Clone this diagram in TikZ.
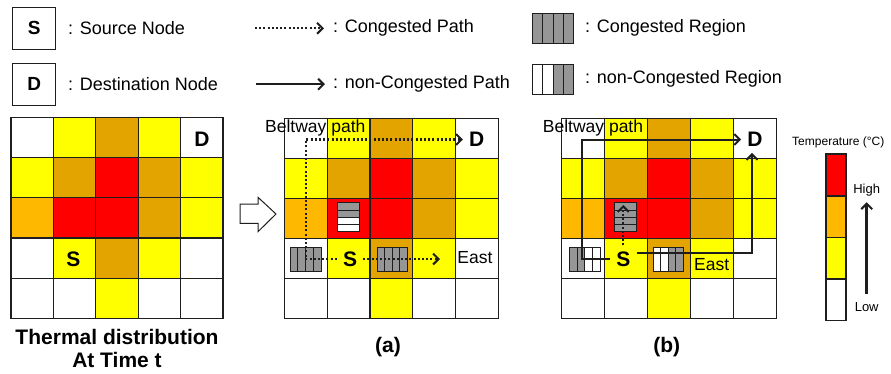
\documentclass[tikz,border=0pt]{standalone}
\usepackage{fontspec}
\setmainfont{Liberation Sans}
\usetikzlibrary{arrows.meta}

\definecolor{cW}{RGB}{255,255,255}
\definecolor{cY}{RGB}{255,255,0}
\definecolor{cO}{RGB}{228,164,0}
\definecolor{cL}{RGB}{255,184,0}
\definecolor{cR}{RGB}{255,0,0}
\definecolor{regfill}{RGB}{150,150,150}
\definecolor{ink}{RGB}{30,30,30}

% 5x5 thermal grid: left, top, cell width, cell height
\newcommand{\thermgrid}[4]{%
  \foreach \row [count=\r from 0] in {{W,Y,O,Y,W},{Y,O,R,O,Y},{L,R,R,O,Y},{W,Y,O,Y,W},{W,W,Y,W,W}} {
    \foreach \c [count=\k from 0] in \row {
      \filldraw[gridcell, fill=c\c] ({#1+\k*#3},{#2+\r*#4}) rectangle ++(#3,#4);
    }
  }
}
% region icon with four vertical strips: left, top, right, bottom, fills
\newcommand{\vreg}[5]{%
  \foreach \fc [count=\i from 0] in {#5} {
    \pgfmathsetmacro{\rgxa}{#1+\i*(#3-#1)/4}
    \pgfmathsetmacro{\rgxb}{#1+(\i+1)*(#3-#1)/4}
    \filldraw[regline, fill=\fc] (\rgxa,#2) rectangle (\rgxb,#4);
  }
}
% region icon with four horizontal strips: left, top, right, bottom, fills
\newcommand{\hreg}[5]{%
  \foreach \fc [count=\i from 0] in {#5} {
    \pgfmathsetmacro{\rgya}{#2+\i*(#4-#2)/4}
    \pgfmathsetmacro{\rgyb}{#2+(\i+1)*(#4-#2)/4}
    \filldraw[regline, fill=\fc] (#1,\rgya) rectangle (#3,\rgyb);
  }
}

\tikzset{
  gridcell/.style={draw=ink, line width=1.2pt},
  regline/.style={draw=ink, line width=0.8pt},
  lbl/.style={font=\fontsize{18}{20}\selectfont, inner sep=0pt},
  keybox/.style={draw=ink, line width=1pt, minimum width=43pt, minimum height=42pt,
                 font=\bfseries\fontsize{19}{21}\selectfont},
  endpt/.style={font=\bfseries\fontsize{21}{23}\selectfont, inner sep=6pt},
  small/.style={font=\fontsize{17.5}{19}\selectfont, inner sep=0pt},
  caption/.style={font=\bfseries\fontsize{21}{23}\selectfont, inner sep=0pt},
  tip/.style={-{Straight Barb[length=5.5pt,width=11pt,line width=2pt]}},
  cong/.style={tip, line width=2.2pt, dash pattern=on 2pt off 2.2pt, draw=ink},
  clear/.style={tip, line width=2pt, draw=ink},
}

\begin{document}
\begin{tikzpicture}[x=1pt, y=-1pt]
\useasboundingbox (0,0) rectangle (891,373);

% ---------- key ----------
\node[keybox] (keyS) at (34.3,28.3) {S};
\node[lbl, anchor=west] (keySt) at (68,28.3) {: Source Node};
\node[keybox] (keyD) at (34.3,84.2) {D};
\node[lbl, anchor=west] (keyDt) at (68,84.2) {: Destination Node};

\coordinate (kc1) at (255,28.3);
\node[lbl, anchor=west] (kct) at (333,28.3) {: Congested Path};
\draw[cong] (kc1) -- ([xshift=-9pt]kct.west);
\coordinate (kn1) at (256,84.2);
\node[lbl, anchor=west] (knt) at (333,84.2) {: non-Congested Path};
\draw[clear] (kn1) -- ([xshift=-8pt]knt.west);

\vreg{532.7}{13.3}{573.3}{43.3}{regfill,regfill,regfill,regfill}
\node[lbl, anchor=west] (krc) at (585,28.3) {: Congested Region};
\vreg{532.7}{64}{573.3}{94}{white,white,regfill,regfill}
\node[lbl, anchor=west] (krn) at (585,79) {: non-Congested Region};

% ---------- thermal distribution at time t ----------
\thermgrid{11}{117.3}{42.4}{40.2}
\node[endpt] (S0) at (73.5,259) {S};
\node[endpt] (D0) at (202,139) {D};
\node[caption] (cap0) at (117,337) {Thermal distribution};
\node[caption] (cap1) at (117,360) {At Time t};

% hollow block arrow
\draw[ink, line width=1pt, fill=white]
  (240,204) -- (258,204) -- (258,197.3) -- (276,214) -- (258,231.7)
  -- (258,223.3) -- (240,223.3) -- cycle;

% ---------- (a) ----------
\thermgrid{284.3}{118.3}{42.8}{40}
\node[small, anchor=west] (bwa) at (265,128) {Beltway path};
\vreg{290}{247.3}{321}{271}{regfill,regfill,regfill,regfill}
\vreg{377.3}{247.3}{407.3}{271}{regfill,regfill,regfill,regfill}
\hreg{337.7}{202.7}{359.3}{231.7}{regfill,regfill,white,white}
\node[endpt] (Sa) at (350,259) {S};
\node[endpt] (Da) at (476.7,139.5) {D};
\node[small] (Ea) at (475,258) {East};
\coordinate (cA) at (305.7,139.5);
\coordinate (eA) at (440,259);
\draw[cong] (Sa.west) -| (cA) -- (Da.west);
\draw[cong] (Sa.east) -- (eA);
\node[caption] (capa) at (388,347) {(a)};

% ---------- (b) ----------
\thermgrid{561.7}{118.3}{43}{40.1}
\node[small, anchor=west] (bwb) at (542.7,128) {Beltway path};
\vreg{569.3}{247.3}{600}{271}{regfill,regfill,white,white}
\vreg{653.3}{247.3}{683.3}{271}{white,white,regfill,regfill}
\hreg{614}{202.7}{636}{231.7}{regfill,regfill,regfill,regfill}
\node[endpt] (Sb) at (623.3,259) {S};
\node[endpt] (Db) at (755,139.5) {D};
\node[small] (Eb) at (711.7,265) {East};
\coordinate (cB) at (581.7,139.5);
\coordinate (uB) at (623.3,205);
\draw[clear] (Sb.west) -| (cB) -- (Db.west);
\draw[clear] ([yshift=6pt]Sb.east) -| ([xshift=-3pt]Db.south);
\draw[cong] (Sb.north) -- (uB);
\node[caption] (capb) at (666.7,347) {(b)};

% ---------- temperature scale ----------
\node[font=\fontsize{12}{14}\selectfont, inner sep=0pt] (tlab) at (838.3,142.3) {Temperature (°C)};
\filldraw[gridcell, fill=cR] (826,154) rectangle (846,196);
\filldraw[gridcell, fill=cL] (826,196) rectangle (846,237.7);
\filldraw[gridcell, fill=cY] (826,237.7) rectangle (846,279);
\filldraw[gridcell, fill=cW] (826,279) rectangle (846,320.7);
\node[font=\fontsize{13}{15}\selectfont, inner sep=0pt] (hi) at (866.7,190) {High};
\node[font=\fontsize{13}{15}\selectfont, inner sep=0pt] (lo) at (866.7,306.7) {Low};
\draw[clear, line width=2.5pt] ([yshift=8pt]lo.north) -- ([yshift=-6pt]hi.south);
\end{tikzpicture}
\end{document}
